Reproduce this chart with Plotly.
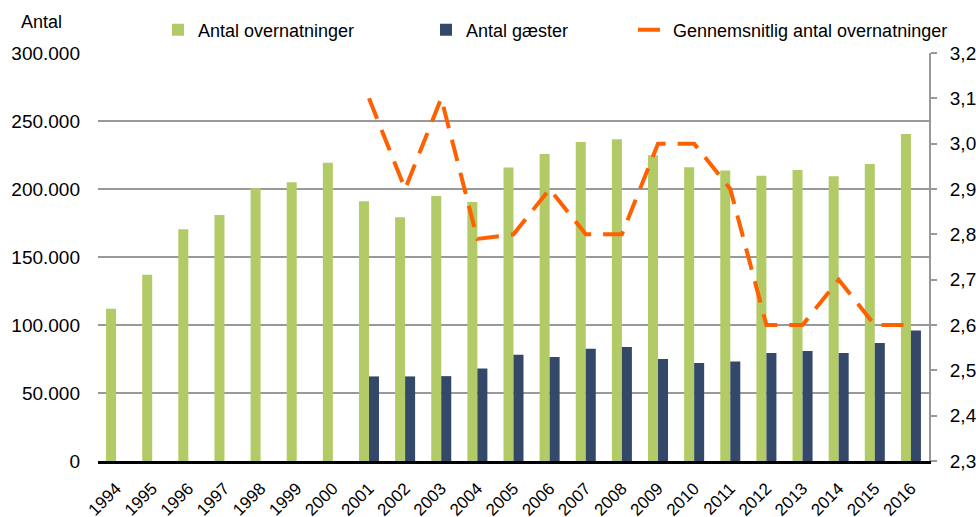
import plotly.graph_objects as go

years = [str(y) for y in range(1994, 2017)]
overnatninger = [111900, 136900, 170400, 180900, 200600, 205000, 219300,
                 191000, 179200, 194900, 190500, 215800, 225700, 234500,
                 236500, 224900, 216000, 213600, 209700, 213900, 209400,
                 218300, 240400]
gaester = [None, None, None, None, None, None, None,
           62200, 62200, 62400, 68100, 78200, 76500, 82600, 83800,
           75000, 72000, 73200, 79400, 80900, 79400, 86800, 95900]
gennemsnit = [None, None, None, None, None, None, None,
              3.1, 2.9, 3.1, 2.79, 2.8, 2.9, 2.8, 2.8,
              3.0, 3.0, 2.9, 2.6, 2.6, 2.7, 2.6, 2.6]

FONT = "Liberation Sans, Arial, sans-serif"
GREEN = "#B3CB67"
BLUE = "#34486A"
ORANGE = "#FF6000"

def f(size):
    return dict(family=FONT, size=size, color="#000")

fig = go.Figure()
fig.add_trace(go.Bar(x=years, y=overnatninger, name="Antal overnatninger",
                     marker=dict(color=GREEN, line=dict(width=0)), legend="legend"))
fig.add_trace(go.Bar(x=years, y=gaester, name="Antal gæster",
                     marker=dict(color=BLUE, line=dict(width=0)), legend="legend2"))
fig.add_trace(go.Scatter(x=years, y=gennemsnit, name="Gennemsnitlig antal overnatninger",
                         mode="lines", yaxis="y2",
                         line=dict(color=ORANGE, width=4, dash="22px,12px"),
                         legend="legend3"))

W, H = 976, 517
L, T = 98, 53
R = W - 929
B = H - 461
pw, ph = W - L - R, H - T - B

def px_x(p):
    return (p - L) / pw

def px_y(p):
    return (H - B - p) / ph

legend_common = dict(orientation="h", yanchor="middle", xanchor="left",
                     font=f(18), bgcolor="rgba(0,0,0,0)", borderwidth=0)

fig.update_layout(
    width=W, height=H,
    margin=dict(l=L, r=R, t=T, b=B, autoexpand=False),
    plot_bgcolor="white", paper_bgcolor="white",
    separators=",.",
    showlegend=True,
    barmode="group", bargap=0.446, bargroupgap=0,
    font=f(18),
    legend=dict(x=px_x(158), y=px_y(30), **legend_common),
    legend2=dict(x=px_x(426), y=px_y(30), **legend_common),
    legend3=dict(x=px_x(633), y=px_y(30), **legend_common),
    xaxis=dict(type="category", tickangle=-45, showline=True, linecolor="black",
               linewidth=3, ticks="", showgrid=False, automargin=False,
               ticklabelshift=0, ticklabelstandoff=8,
               tickfont=f(17)),
    yaxis=dict(range=[0, 300000], dtick=50000, tickformat=",d", showgrid=True,
               gridcolor="#999999", gridwidth=2, showline=False, zeroline=False,
               ticks="", ticklabelstandoff=17, automargin=False,
               tickfont=f(19)),
    yaxis2=dict(range=[2.3, 3.2], dtick=0.1, tickformat=".1f", overlaying="y",
                side="right", showgrid=False, zeroline=False, showline=True,
                linecolor="#999999", linewidth=2, ticks="outside", ticklen=6,
                tickcolor="#999999", tickwidth=2, ticklabelstandoff=9,
                automargin=False, tickfont=f(19)),
    annotations=[dict(text="Antal", xref="paper", yref="paper",
                      x=px_x(19), y=px_y(22), xanchor="left", yanchor="middle",
                      showarrow=False, font=f(18))],
)

# remove the browser's default 8px body margin so the figure fills the window
fig.write_html("out.html",
               config={"displayModeBar": False},
               post_script="document.body.style.margin='0';document.body.style.overflow='hidden';")
